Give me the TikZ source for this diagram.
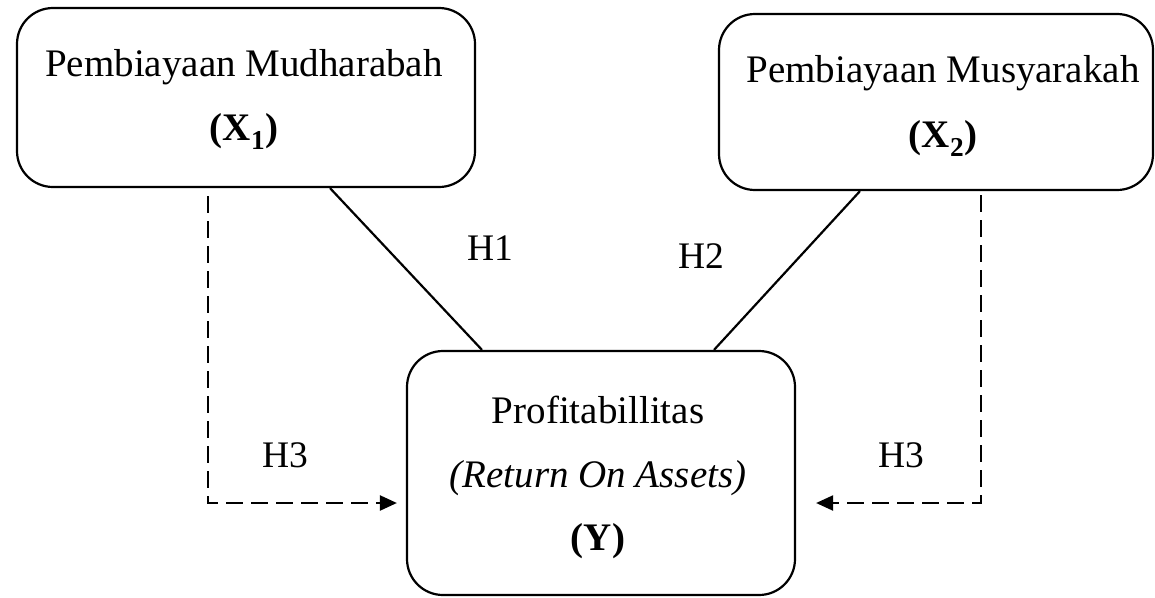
\documentclass[tikz,border=0pt]{standalone}
\usepackage{fontspec}
\setmainfont{Liberation Serif}
\usetikzlibrary{arrows.meta}
\tikzset{
  boxnode/.style={draw, line width=2.2pt, rounded corners=36pt, inner sep=0pt},
  txt/.style={anchor=base, inner sep=0pt, font=\fontsize{39}{47}\selectfont},
  hlab/.style={anchor=base, inner sep=0pt, font=\fontsize{37.5}{45}\selectfont},
  solidlink/.style={line width=2.2pt},
  dashlink/.style={line width=2.2pt, dash pattern=on 17pt off 8pt, -{Triangle[length=17pt,width=15pt]}},
}
\begin{document}
\begin{tikzpicture}[x=1pt,y=-1pt]
\useasboundingbox (0,0) rectangle (1155,597);
% boxes
\node[boxnode, minimum width=458pt, minimum height=179pt] (x1) at (246,97.5) {};
\node[boxnode, minimum width=434pt, minimum height=176pt] (x2) at (936,102) {};
\node[boxnode, minimum width=388pt, minimum height=244pt] (y) at (601,473) {};
% texts
\node[txt] (x1a) at (244,76) {Pembiayaan Mudharabah};
\node[txt] (x1b) at (244,140) {\textbf{(X\textsubscript{1})}};
\node[txt] (x2a) at (943,82) {Pembiayaan Musyarakah};
\node[txt] (x2b) at (943,147) {\textbf{(X\textsubscript{2})}};
\node[txt] (ya) at (598,423) {Profitabillitas};
\node[txt] (yb) at (598,487) {\textit{(Return On Assets)}};
\node[txt] (yc) at (598,550) {\textbf{(Y)}};
% labels
\node[hlab] (h1) at (490,260) {H1};
\node[hlab] (h2) at (701,268) {H2};
\node[hlab] (h3a) at (285,467) {H3};
\node[hlab] (h3b) at (901,467) {H3};
% connectors
\draw[solidlink] ([xshift=84pt]x1.south) -- ([xshift=-119pt]y.north);
\draw[solidlink] ([xshift=-76pt]x2.south) -- ([xshift=113pt]y.north);
\draw[dashlink] ([xshift=-38pt,yshift=-8pt]x1.south) |- ([xshift=-9pt,yshift=-30pt]y.west);
\draw[dashlink] ([xshift=45pt,yshift=-4pt]x2.south) |- ([xshift=20pt,yshift=-30pt]y.east);
\end{tikzpicture}
\end{document}
